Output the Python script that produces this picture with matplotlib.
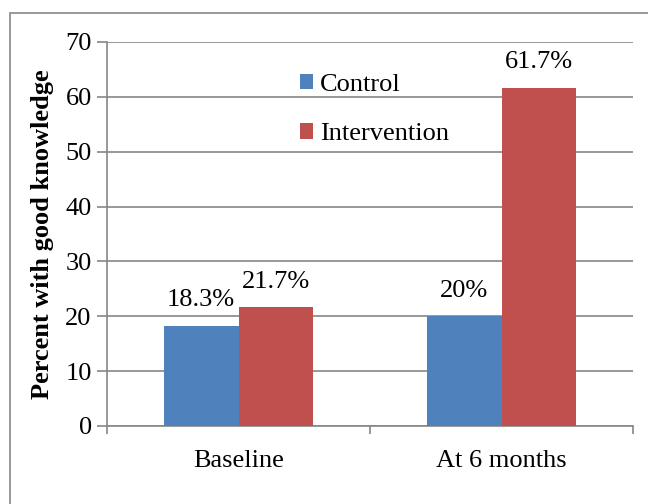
import numpy as np
import matplotlib
matplotlib.use('Agg')
import matplotlib.pyplot as plt
from matplotlib.patches import Rectangle

plt.rcParams['font.family'] = ['Liberation Serif', 'DejaVu Serif']

categories = ['Baseline', 'At 6 months']
control = [18.3, 20.0]
intervention = [21.7, 61.7]
control_labels = ['18.3%', '20%']
intervention_labels = ['21.7%', '61.7%']

blue = '#4F81BD'
red = '#C0504D'
grid = '#868686'
fs = 19

fig = plt.figure(figsize=(6.48, 5.04), dpi=100)
# outer border of the chart area (clipped at right/bottom like the reference)
fig.patches.append(Rectangle((10/648, -0.05), 1.2, 1 - 13/504 + 0.05,
                             transform=fig.transFigure, fill=False,
                             edgecolor=grid, linewidth=1.2))

ax = fig.add_axes([107/648, 1 - 426/504, (633-107)/648, (426-42)/504])

x = np.arange(len(categories))
w = 0.285
b1 = ax.bar(x - w/2, control, w, color=blue, label='Control', zorder=3)
b2 = ax.bar(x + w/2, intervention, w, color=red, label='Intervention', zorder=3)

for rect, lab in zip(list(b1) + list(b2), control_labels + intervention_labels):
    ax.text(rect.get_x() + rect.get_width()/2, rect.get_height() + 2.6, lab,
            ha='center', va='bottom', fontsize=fs)

ax.set_xlim(-0.5, 1.5)
ax.set_ylim(0, 70)
ax.set_yticks(range(0, 71, 10))
ax.yaxis.grid(True, color=grid, linewidth=1.2, zorder=0)
ax.set_axisbelow(True)
ax.set_xticks(x)
ax.set_xticklabels(categories, fontsize=fs)
ax.set_xticks([-0.5, 0.5, 1.5], minor=True)
ax.tick_params(axis='x', which='major', length=0, pad=17)
ax.tick_params(axis='x', which='minor', length=6, color=grid, width=1.2)
ax.tick_params(axis='y', labelsize=fs, length=7, color=grid, width=1.2,
               direction='out', pad=4)

for s in ['top', 'right']:
    ax.spines[s].set_visible(False)
for s in ['left', 'bottom']:
    ax.spines[s].set_color(grid)
    ax.spines[s].set_linewidth(1.2)

ax.set_ylabel('Percent with good knowledge', fontsize=fs, fontweight='bold', labelpad=8)

ax.legend(loc='upper left', bbox_to_anchor=(0.347, 0.945), frameon=False,
          fontsize=fs, handlelength=0.5, handleheight=0.5, handletextpad=0.25,
          labelspacing=1.05, borderaxespad=0)

fig.savefig('out.png', dpi=100)
